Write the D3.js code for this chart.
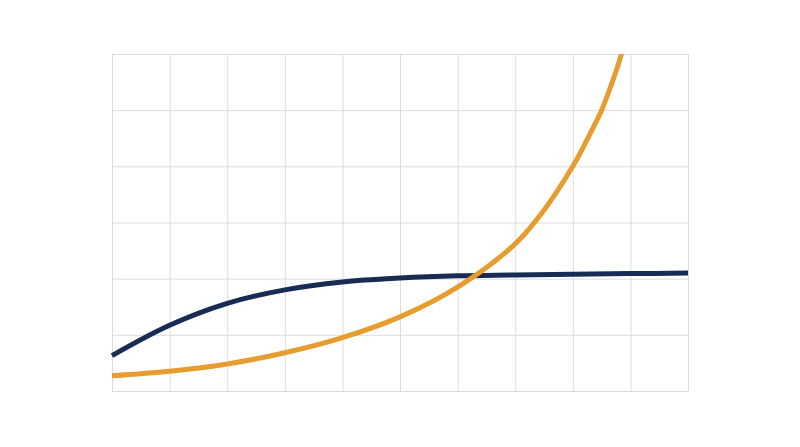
<!DOCTYPE html>
<html>
<head>
<meta charset="utf-8">
<script src="https://cdn.jsdelivr.net/npm/d3@7"></script>
<style>
  body { margin: 0; background: #fff; }
  .grid line { stroke: #dcdcdc; stroke-width: 1; }
  .grid path { display: none; }
</style>
</head>
<body>
<div id="chart"></div>
<script>
// values, in grid units (10 columns x 6 rows)
const navyX = [0, 1, 2, 3, 4, 5, 6, 7, 8, 9, 10];
const navyY = [0.63, 1.17, 1.56, 1.80, 1.94, 2.01, 2.05, 2.065, 2.08, 2.09, 2.10];

const orangeX = [0, 1, 2, 3, 4, 5, 6, 7, 7.5, 8, 8.25, 8.5, 8.65, 8.8, 8.95];
const orangeY = [0.27, 0.35, 0.48, 0.68, 0.95, 1.32, 1.85, 2.62, 3.22, 4.0, 4.48, 5.0, 5.4, 5.85, 6.4];

const xTicks = d3.range(0, 11);
const yTicks = d3.range(0, 7);

const margin = {top: 54, right: 112, bottom: 56, left: 112},
  width = 800 - margin.left - margin.right,
  height = 447 - margin.top - margin.bottom;

const svg = d3.select("#chart")
.append("svg")
  .attr("width", width + margin.left + margin.right)
  .attr("height", height + margin.top + margin.bottom)
.append("g")
  .attr("transform", `translate(${margin.left},${margin.top})`);

const x = d3.scaleLinear().domain([0, 10]).range([0, width]);
const y = d3.scaleLinear().domain([0, 6]).range([height, 0]);

// grid
svg.append("g")
  .attr("class", "grid")
  .call(d3.axisBottom(x).tickValues(xTicks).tickSize(height).tickFormat(""));
svg.append("g")
  .attr("class", "grid")
  .call(d3.axisLeft(y).tickValues(yTicks).tickSize(-width).tickFormat(""));

svg.append("clipPath").attr("id", "clip")
  .append("rect").attr("width", width).attr("height", height);

const line = d3.line()
  .x(d => x(d[0]))
  .y(d => y(d[1]))
  .curve(d3.curveCatmullRom.alpha(0.5));

svg.append("path")
  .datum(navyX.map((v, i) => [v, navyY[i]]))
  .attr("d", line)
  .attr("fill", "none")
  .attr("stroke", "#172b55")
  .attr("stroke-width", 5);

svg.append("path")
  .datum(orangeX.map((v, i) => [v, orangeY[i]]))
  .attr("d", line)
  .attr("clip-path", "url(#clip)")
  .attr("fill", "none")
  .attr("stroke", "#e69c2e")
  .attr("stroke-width", 5);
</script>
</body>
</html>
